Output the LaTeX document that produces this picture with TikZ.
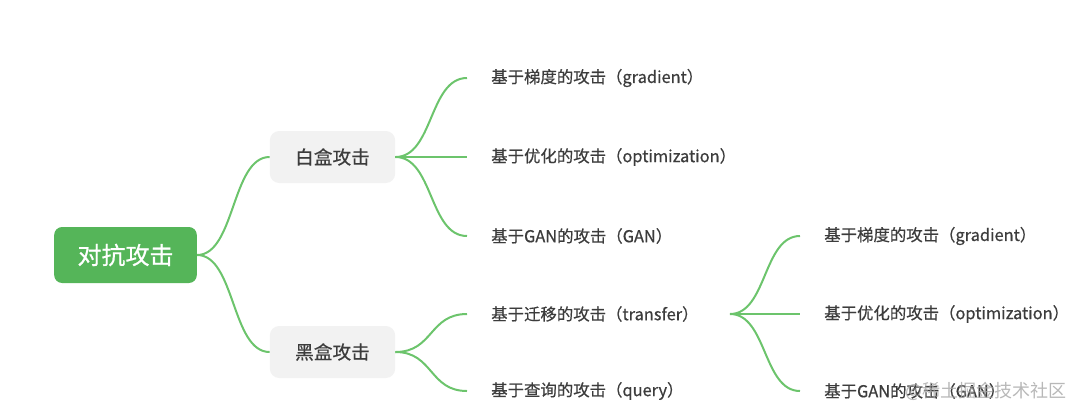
\documentclass[tikz,border=0pt]{standalone}
\usepackage{fontspec}
\setmainfont{Noto Sans CJK SC}
\newfontfamily\medfont[FakeBold=0.6]{Noto Sans CJK SC}
\definecolor{rootgreen}{HTML}{55B559}
\definecolor{linegreen}{HTML}{6CC46C}
\definecolor{boxgray}{HTML}{F2F2F2}
\definecolor{txtgray}{HTML}{3C3C3C}
\tikzset{
  rootbox/.style={fill=rootgreen, rounded corners=6pt, minimum width=107pt, minimum height=42pt, text=white, font=\medfont\fontsize{18}{20}\selectfont, inner sep=0pt},
  subbox/.style={fill=boxgray, rounded corners=7pt, minimum width=94pt, minimum height=39pt, text=txtgray, font=\medfont\fontsize{14}{16}\selectfont, inner sep=0pt},
  leaf/.style={anchor=west, text=txtgray, font=\medfont\fontsize{12.3}{14}\selectfont, inner sep=0pt},
  conn/.style={draw=linegreen, line width=1.5pt},
  wm/.style={text=gray!70, opacity=0.8, font=\fontsize{13.5}{15}\selectfont, inner sep=0pt}
}
\begin{document}
\begin{tikzpicture}[x=0.75pt,y=-0.75pt]
\useasboundingbox (0,0) rectangle (1080,415);
% main nodes
\node[rootbox] (root) at (125.5,255) {对抗攻击};
\node[subbox] (wb) at (332.5,157) {白盒攻击};
\node[subbox] (bb) at (332.5,352) {黑盒攻击};
% leaf anchor coordinates
\coordinate (l1) at (467,78);
\coordinate (l2) at (467,157);
\coordinate (l3) at (467,236);
\coordinate (l4) at (467,314);
\coordinate (l5) at (467,391);
\coordinate (t0) at (730,314);
\coordinate (m1) at (800,236);
\coordinate (m2) at (800,314);
\coordinate (m3) at (800,391);
% leaves
\node[leaf] (g1) at (491,78) {基于梯度的攻击（gradient）};
\node[leaf] (o1) at (491,157) {基于优化的攻击（optimization）};
\node[leaf] (a1) at (491,236) {基于GAN的攻击（GAN）};
\node[leaf] (tr) at (491,314) {基于迁移的攻击（transfer）};
\node[leaf] (qu) at (491,391) {基于查询的攻击（query）};
\node[leaf] (g2) at (824,236) {基于梯度的攻击（gradient）};
\node[leaf] (o2) at (824,314) {基于优化的攻击（optimization）};
\node[leaf] (a2) at (824,391) {基于GAN的攻击（GAN）};
% watermark
\node[wm, anchor=west] (wmk) at (905,391) {@稀土掘金技术社区};
% connectors
\draw[conn] (root.east) .. controls +(38,0) and +(-38,0) .. (wb.west);
\draw[conn] (root.east) .. controls +(38,0) and +(-38,0) .. (bb.west);
\draw[conn] (wb.east) .. controls +(38,0) and +(-38,0) .. (l1);
\draw[conn] (wb.east) -- (l2);
\draw[conn] (wb.east) .. controls +(38,0) and +(-38,0) .. (l3);
\draw[conn] (bb.east) .. controls +(38,0) and +(-38,0) .. (l4);
\draw[conn] (bb.east) .. controls +(38,0) and +(-38,0) .. (l5);
\draw[conn] (t0) .. controls +(37,0) and +(-37,0) .. (m1);
\draw[conn] (t0) -- (m2);
\draw[conn] (t0) .. controls +(37,0) and +(-37,0) .. (m3);
\end{tikzpicture}
\end{document}
